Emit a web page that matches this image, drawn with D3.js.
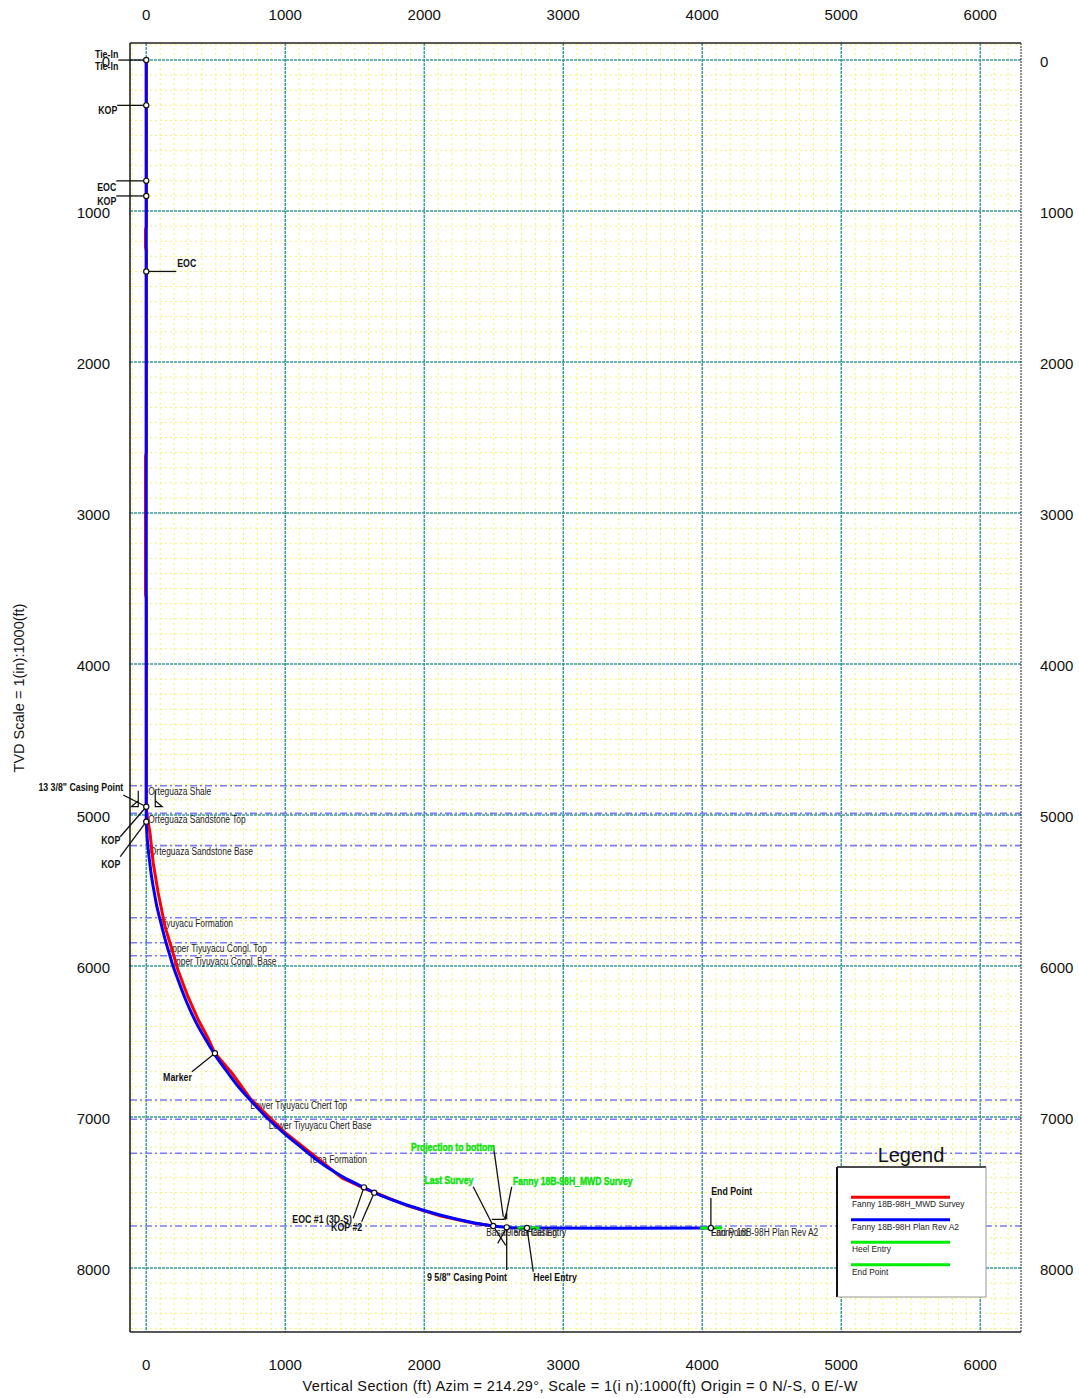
<!DOCTYPE html>
<html><head><meta charset="utf-8">
<script src="https://cdn.jsdelivr.net/npm/d3@7"></script>
<style>
body{margin:0;background:#fff;}
svg{display:block;}
.tick{font-family:"Liberation Sans",Arial,sans-serif;font-size:15px;fill:#111;}
.small{font-family:"Liberation Sans",Arial,sans-serif;}
</style></head>
<body>
<script>
// ---------------- DATA ----------------
const xTickValues = [0,1000,2000,3000,4000,5000,6000];
const yTickValues = [0,1000,2000,3000,4000,5000,6000,7000,8000];

// Plan (blue): vertical section (ft) and TVD (ft)
const planVS  = [0,0,0,0,0,0,0,3,11,23,37,55,75,101,129,160,193,232,273,320,373,436,503,581,663,761,863,982,1113,1250,1330,1420,1566,1640,1874,2113,2353,2496,2593,2739,4062];
const planTVD = [0,300,800,900,1400,4945,5044,5100,5200,5300,5400,5500,5600,5700,5800,5900,6000,6100,6200,6300,6400,6500,6600,6700,6800,6900,7000,7100,7200,7300,7350,7400,7466,7501,7583,7649,7700,7722,7731,7735,7735];

// MWD survey (red)
const surveyVS  = [0,0,-5,-5,0,0,-5,-5,0,0,5,27,50,86,135,171,228,300,375,440,494,616,745,1002,1175,1408,1580,1882,2120,2358,2496];
const surveyTVD = [0,1100,1125,1240,1265,2600,2625,3540,3565,4945,5000,5119,5318,5517,5740,5848,6026,6203,6358,6470,6578,6709,6874,7106,7232,7404,7477,7589,7656,7704,7722];

// Targets (green)
const heelEntryVS = [2670,2830];
const endPointVS  = [3985,4145];
const targetTVD   = 7735;

// Formation tops
const formationNames = ["Orteguaza Shale","Orteguaza Sandstone Top","Orteguaza Sandstone Base","Tiyuyacu Formation","Upper Tiyuyacu Congl. Top","Upper Tiyuyacu Congl. Base","Lower Tiyuyacu Chert Top","Lower Tiyuyacu Chert Base","Tena Formation","Basal Tena"];
const formationTVD   = [4806,4989,5203,5680,5846,5932,6887,7015,7240,7722];

// Annotated well points
const annotNames = ["Tie-In","Tie-In","KOP","EOC","KOP","EOC","13 3/8\" Casing Point","KOP","KOP","Marker","EOC #1 (3D-S)","KOP #2","Last Survey","Projection to bottom","Fanny 18B-98H_MWD Survey","9 5/8\" Casing Point","Heel Entry","End Point"];
const annotVS  = [0,0,0,0,0,0,0,0,0,494,1566,1640,2496,2593,2593,2593,2739,4062];
const annotTVD = [0,0,300,800,900,1400,4945,4945,5044,6578,7466,7501,7722,7731,7731,7731,7735,7735];

// Plain labels at targets
const targetLabels = ["Heel Entry","End Point","Fanny 18B-98H Plan Rev A2","9 5/8\" Casing"];
const targetLabelVS = [2739,4062,4062,2593];

// Legend
const legendNames  = ["Fanny 18B-98H_MWD Survey","Fanny 18B-98H Plan Rev A2","Heel Entry","End Point"];
const legendColors = ["#ff0000","#0000ff","#00ee00","#00ee00"];

// ---------------- LAYOUT ----------------
const W = 1079, H = 1398;
const svg = d3.select("body").append("svg").attr("width",W).attr("height",H);
const L = 130, R = 1021, T = 43, B = 1332;
const x = d3.scaleLinear().domain([-117,6293]).range([L,R]);
const y = d3.scaleLinear().domain([-113,8424]).range([T,B]);

function squeeze(sel, f){
  sel.each(function(){
    const len = this.getComputedTextLength();
    d3.select(this).attr("textLength", len*f).attr("lengthAdjust","spacingAndGlyphs");
  });
  return sel;
}

// minor grid
const gMinor = svg.append("g");
d3.range(-100, 6300, 100).filter(v=>v%1000!==0).forEach(v=>{
  gMinor.append("line").attr("x1",x(v)).attr("x2",x(v)).attr("y1",T).attr("y2",B)
    .attr("stroke","#f3f36e").attr("stroke-width",1).attr("stroke-dasharray","2,3");
});
d3.range(-100, 8500, 100).filter(v=>v%1000!==0 && y(v)<B).forEach(v=>{
  gMinor.append("line").attr("x1",L).attr("x2",R).attr("y1",y(v)).attr("y2",y(v))
    .attr("stroke","#f3f36e").attr("stroke-width",1).attr("stroke-dasharray","2,3");
});
// major grid
const gMajor = svg.append("g");
xTickValues.forEach(v=>{
  gMajor.append("line").attr("x1",x(v)).attr("x2",x(v)).attr("y1",T).attr("y2",B)
    .attr("stroke","#3a9a9a").attr("stroke-width",1.5).attr("stroke-dasharray","3,1");
});
yTickValues.forEach(v=>{
  gMajor.append("line").attr("x1",L).attr("x2",R).attr("y1",y(v)).attr("y2",y(v))
    .attr("stroke","#3a9a9a").attr("stroke-width",1.5).attr("stroke-dasharray","3,1");
});

// formation lines
const planPts = planVS.map((v,i)=>[v,planTVD[i]]);
function vsAtTVD(t){
  for(let i=1;i<planPts.length;i++){
    const a=planPts[i-1], b=planPts[i];
    if(t>=a[1] && t<=b[1] && b[1]>a[1]) return a[0]+(b[0]-a[0])*(t-a[1])/(b[1]-a[1]);
  }
  return 0;
}
const gForm = svg.append("g");
formationNames.forEach((n,i)=>{
  const yy = y(formationTVD[i]);
  gForm.append("line").attr("x1",L).attr("x2",R).attr("y1",yy).attr("y2",yy)
    .attr("stroke","#7a7aff").attr("stroke-width",1.6).attr("stroke-dasharray","7,3,2,3");
});

// axes frame
svg.append("line").attr("x1",L).attr("x2",R).attr("y1",T).attr("y2",T).attr("stroke","#222").attr("stroke-width",1.6);
svg.append("line").attr("x1",L).attr("x2",L).attr("y1",T).attr("y2",B).attr("stroke","#222").attr("stroke-width",1.6);
svg.append("line").attr("x1",L).attr("x2",R).attr("y1",B).attr("y2",B).attr("stroke","#222").attr("stroke-width",1.6);
svg.append("line").attr("x1",R).attr("x2",R).attr("y1",T).attr("y2",B).attr("stroke","#222").attr("stroke-width",1).attr("stroke-dasharray","2,1");

// tick labels
xTickValues.forEach(v=>{
  svg.append("text").attr("class","tick").attr("x",x(v)).attr("y",19.5).attr("text-anchor","middle").text(v);
  svg.append("text").attr("class","tick").attr("x",x(v)).attr("y",1369.5).attr("text-anchor","middle").text(v);
});
yTickValues.forEach(v=>{
  svg.append("text").attr("class","tick").attr("x",110).attr("y",y(v)+7).attr("text-anchor","end").text(v);
  svg.append("text").attr("class","tick").attr("x",1040).attr("y",y(v)+7).attr("text-anchor","start").text(v);
});
// axis titles
svg.append("text").attr("class","tick").style("font-size","14.5px")
  .attr("x",580).attr("y",1391).attr("text-anchor","middle")
  .attr("textLength",555).attr("lengthAdjust","spacing")
  .text("Vertical Section (ft) Azim = 214.29°, Scale = 1(i n):1000(ft)  Origin = 0 N/-S, 0 E/-W");
svg.append("text").attr("class","tick").style("font-size","14.5px")
  .attr("transform","translate(24,688) rotate(-90)").attr("text-anchor","middle")
  .text("TVD Scale = 1(in):1000(ft)");

// formation labels
formationNames.forEach((n,i)=>{
  const yy = y(formationTVD[i]);
  const xx = x(vsAtTVD(formationTVD[i]))+ (i<3?2:0);
  squeeze(svg.append("text").attr("class","small").style("font-size","10px").attr("fill","#222")
    .attr("x",xx-(i===9?7:0)).attr("y",yy+9.5).text(n), 0.84);
});

// well paths
const line = d3.line().x(d=>x(d[0])).y(d=>y(d[1]));
svg.append("path").datum(surveyVS.map((v,i)=>[v,surveyTVD[i]]))
  .attr("d",line).attr("fill","none").attr("stroke","#ff0000").attr("stroke-width",3);
const smooth = d3.line().x(d=>x(d[0])).y(d=>y(d[1])).curve(d3.curveCatmullRom.alpha(0.5));
svg.append("path").datum(planPts)
  .attr("d",smooth).attr("fill","none").attr("stroke","#0000ff").attr("stroke-width",3);
[heelEntryVS,endPointVS].forEach(seg=>{
  svg.append("path").datum(seg.map(v=>[v,targetTVD])).attr("d",line)
    .attr("stroke","#00ee00").attr("stroke-width",3).attr("fill","none");
});

// target plain labels
targetLabels.forEach((t,i)=>{
  squeeze(svg.append("text").attr("class","small").style("font-size","10px").attr("fill","#222")
    .attr("x",x(targetLabelVS[i])).attr("y",y(targetTVD)+8.5).text(t), 0.84);
});

// annotation layout: [leader x1,y1,x2,y2] relative to point, [text dx,dy], anchor, color
const annotLayout = [
  {l:[0,0,-28,0], t:[-28,-2.5], a:"end"},
  {l:null, t:[-28,10], a:"end"},
  {l:[0,0,-29,0], t:[-29,9], a:"end"},
  {l:[0,0,-30,0], t:[-30,10], a:"end"},
  {l:[0,0,-30,0], t:[-30,9], a:"end"},
  {l:[0,0,30,0], t:[31,-4], a:"start"},
  {l:[0,0,-23,-11.7], t:[-23,-15.7], a:"end"},
  {l:[0,0,-26,30], t:[-26,37], a:"end"},
  {l:[0,0,-26,35], t:[-26,46], a:"end"},
  {l:[0,0,-23,18.4], t:[-23,28], a:"end"},
  {l:[0,0,-10.7,31], t:[-12,36], a:"end"},
  {l:[0,0,-12.6,29], t:[-12,38], a:"end"},
  {l:[0,0,-20,-39.3], t:[-20,-42], a:"end", c:"#11e011"},
  {l:[-3.4,-10.6,-13.4,-82.3], t:[-11.7,-76.3], a:"end", c:"#11e011"},
  {l:[-1.7,-7.3,5,-40.6], t:[6.3,-42.8], a:"start", c:"#11e011"},
  {l:[0,0,0,42.7], t:[0.3,53.7], a:"end"},
  {l:[0,0,6.3,43.7], t:[6.3,53], a:"start"},
  {l:[0,0,0,-30], t:[0.3,-33], a:"start"}
];
const gAnn = svg.append("g");
annotNames.forEach((n,i)=>{
  const px = x(annotVS[i]), py = y(annotTVD[i]);
  const lay = annotLayout[i];
  if(lay.l) gAnn.append("line").attr("x1",px+lay.l[0]).attr("y1",py+lay.l[1]).attr("x2",px+lay.l[2]).attr("y2",py+lay.l[3])
    .attr("stroke","#111").attr("stroke-width",1.3);
  const t = gAnn.append("text").attr("class","small").style("font-size","10px").style("font-weight","bold")
    .attr("fill",lay.c||"#111").attr("x",px+lay.t[0]).attr("y",py+lay.t[1]).attr("text-anchor",lay.a).text(n);
  if(lay.c) t.attr("stroke",lay.c).attr("stroke-width",0.5);
  squeeze(t, lay.c?0.86:0.88);
});
// extra crossing leaders below the casing point
const cp = [x(annotVS[15]), y(annotTVD[15])];
gAnn.append("line").attr("x1",cp[0]-12).attr("y1",cp[1]+1).attr("x2",cp[0]-1).attr("y2",cp[1]+18).attr("stroke","#111").attr("stroke-width",1.2);
gAnn.append("line").attr("x1",cp[0]-1).attr("y1",cp[1]+2).attr("x2",cp[0]-9).attr("y2",cp[1]+16).attr("stroke","#111").attr("stroke-width",1.2);

// casing shoe symbols
function shoeVertical(px,py){
  gAnn.append("path").attr("d",`M${px-8},${py-16}L${px-8},${py}L${px-15},${py}L${px-8},${py-6}`).attr("fill","none").attr("stroke","#111").attr("stroke-width",1.2);
  gAnn.append("path").attr("d",`M${px+9},${py-16}L${px+9},${py}L${px+16},${py}L${px+9},${py-6}`).attr("fill","none").attr("stroke","#111").attr("stroke-width",1.2);
}
shoeVertical(x(annotVS[6]), y(annotTVD[6]));
gAnn.append("path").attr("d",`M${cp[0]-15},${cp[1]-8}L${cp[0]-3},${cp[1]-8}L${cp[0]},${cp[1]-14}L${cp[0]},${cp[1]-8}`)
  .attr("fill","none").attr("stroke","#111").attr("stroke-width",1.2);

// point markers
const markerIdx = [0,2,3,4,5,6,8,9,10,11,12,15,16,17];
markerIdx.forEach(i=>{
  gAnn.append("circle").attr("cx",x(annotVS[i])).attr("cy",y(annotTVD[i])).attr("r",2.6)
    .attr("fill","#fff").attr("stroke","#111").attr("stroke-width",1.2);
});

// legend
const lg = svg.append("g");
lg.append("rect").attr("x",837).attr("y",1167).attr("width",149).attr("height",130).attr("fill","#fff");
lg.append("line").attr("x1",837).attr("x2",986).attr("y1",1167).attr("y2",1167).attr("stroke","#111").attr("stroke-width",1.5);
lg.append("line").attr("x1",837).attr("x2",837).attr("y1",1167).attr("y2",1297).attr("stroke","#111").attr("stroke-width",2);
lg.append("line").attr("x1",986).attr("x2",986).attr("y1",1167).attr("y2",1297).attr("stroke","#999").attr("stroke-width",1);
lg.append("line").attr("x1",837).attr("x2",986).attr("y1",1297).attr("y2",1297).attr("stroke","#999").attr("stroke-width",1);
lg.append("text").attr("class","tick").style("font-size","20px").attr("x",911).attr("y",1162).attr("text-anchor","middle").text("Legend");
legendNames.forEach((n,i)=>{
  const yy = 1197.3 + i*22.5;
  lg.append("line").attr("x1",851).attr("x2",950).attr("y1",yy).attr("y2",yy).attr("stroke",legendColors[i]).attr("stroke-width",3);
  squeeze(lg.append("text").attr("class","small").style("font-size","9.5px").attr("fill","#222").attr("x",852).attr("y",yy+10).text(n), 0.88);
});
</script>
</body></html>
